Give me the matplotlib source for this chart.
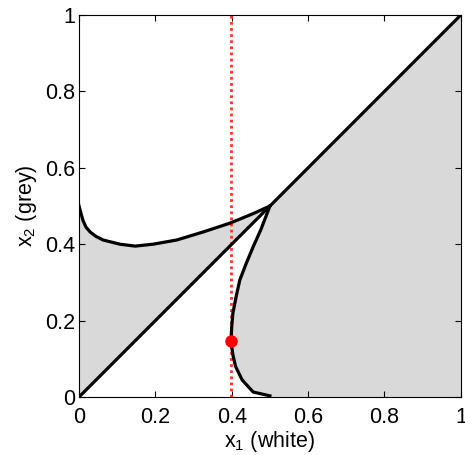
import numpy as np
import matplotlib
matplotlib.use('Agg')
import matplotlib.pyplot as plt

plt.rcParams['font.family'] = ['Liberation Sans', 'DejaVu Sans']

# upper boundary curve (left region)
upper_x = [0.0, 0.004, 0.010, 0.018, 0.029, 0.045, 0.063, 0.107, 0.147, 0.194, 0.256, 0.325, 0.395, 0.456, 0.5]
upper_y = [0.5, 0.485, 0.463, 0.445, 0.432, 0.420, 0.411, 0.400, 0.395, 0.400, 0.411, 0.432, 0.455, 0.480, 0.5]

# lower boundary curve (right region), from (0.5, 0) up to (0.5, 0.5)
lower_x = [0.5, 0.456, 0.427, 0.410, 0.403, 0.398, 0.400, 0.403, 0.412, 0.421, 0.438, 0.456, 0.477, 0.5]
lower_y = [0.003, 0.013, 0.045, 0.080, 0.110, 0.147, 0.185, 0.220, 0.265, 0.306, 0.350, 0.393, 0.440, 0.5]

diag_x = [0.0, 0.5, 1.0]
diag_y = [0.0, 0.5, 1.0]

x1_star = 0.397
x2_star = 0.147

grey = '#d9d9d9'

fig = plt.figure(figsize=(4.65, 4.55), dpi=100)
ax = fig.add_axes([0.170, 0.1275, 0.821, 0.8395])

# shaded regions
ax.fill_between(upper_x, np.array(upper_x), upper_y, color=grey, lw=0, zorder=1)
reg_x = lower_x + diag_x[1:] + [1.0]
reg_y = lower_y + diag_y[1:] + [0.0]
reg_y[0] = 0.0
ax.fill(reg_x, reg_y, color=grey, lw=0, zorder=1)

# boundaries
ax.plot(diag_x, diag_y, color='black', lw=2.3, zorder=3)
ax.plot(upper_x, upper_y, color='black', lw=2.3, zorder=3)
ax.plot(lower_x, lower_y, color='black', lw=2.3, zorder=3)

ax.axvline(x1_star, color='#ff3030', lw=2, linestyle=(0, (1, 1.2)), zorder=2)
ax.plot([x1_star], [x2_star], 'o', color='red', ms=8, zorder=4)

ax.set_xlim(0, 1)
ax.set_ylim(0, 1)
ticks = [0, 0.2, 0.4, 0.6, 0.8, 1]
tick_labels = ['0', '0.2', '0.4', '0.6', '0.8', '1']
ax.set_xticks(ticks)
ax.set_xticklabels(tick_labels)
ax.set_yticks(ticks)
ax.set_yticklabels(tick_labels)
ax.tick_params(direction='in', top=True, right=True, labelsize=15.5, length=4, width=0.8)
ax.tick_params(axis='x', pad=7)
ax.tick_params(axis='y', pad=3)
for s in ax.spines.values():
    s.set_linewidth(0.8)
    s.set_zorder(5)

ax.set_xlabel(r'$\mathregular{x_1}$ (white)', fontsize=15.5, labelpad=1)
ax.set_ylabel(r'$\mathregular{x_2}$ (grey)', fontsize=15.5, labelpad=4)

fig.savefig('out.png', dpi=100)
